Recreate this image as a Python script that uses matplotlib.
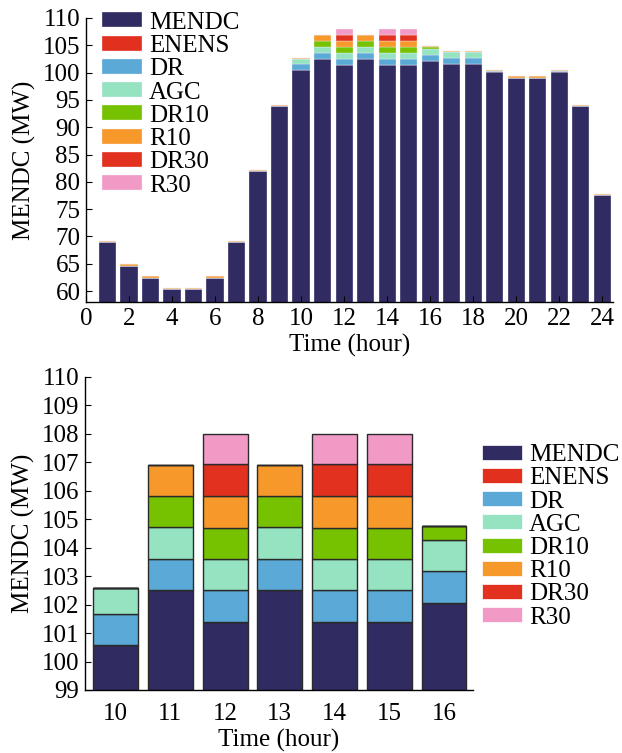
import matplotlib
matplotlib.use("Agg")
import matplotlib.pyplot as plt
import numpy as np

plt.rcParams["font.family"] = ["Liberation Serif", "DejaVu Serif"]

# ---- 24-hour schedule (MW) ----
hours_24 = list(range(1, 25))
mendc_24 = [68.95, 64.65, 62.45, 60.3, 60.3, 62.45, 68.95, 81.9, 93.8, 100.55,
            102.5, 101.4, 102.5, 101.4, 101.4, 102.05, 101.55, 101.55, 100.1, 99.1,
            99.1, 100.1, 93.8, 77.55]
enens_24 = [0.0] * 24
dr_24 = [0, 0, 0, 0, 0, 0, 0, 0, 0, 1.08,
         1.1, 1.1, 1.1, 1.1, 1.1, 1.1, 1.1, 1.1, 0.2, 0,
         0, 0.2, 0, 0]
agc_24 = [0, 0, 0, 0, 0, 0, 0, 0, 0, 0.94,
          1.1, 1.1, 1.1, 1.1, 1.1, 1.1, 1.1, 1.1, 0, 0,
          0, 0, 0, 0]
dr10_24 = [0, 0, 0, 0, 0, 0, 0, 0, 0, 0,
           1.1, 1.1, 1.1, 1.1, 1.1, 0.45, 0, 0, 0, 0,
           0, 0, 0, 0]
r10_24 = [0.28, 0.28, 0.28, 0.28, 0.28, 0.28, 0.28, 0.28, 0.28, 0.18,
          1.1, 1.1, 1.1, 1.1, 1.1, 0.18, 0.18, 0.18, 0.25, 0.25,
          0.25, 0.25, 0.28, 0.28]
dr30_24 = [0, 0, 0, 0, 0, 0, 0, 0, 0, 0,
           0, 1.13, 0, 1.13, 1.13, 0, 0, 0, 0, 0,
           0, 0, 0, 0]
r30_24 = [0, 0, 0, 0, 0, 0, 0, 0, 0, 0,
          0, 1.07, 0, 1.07, 1.07, 0, 0, 0, 0, 0,
          0, 0, 0, 0]

# ---- peak hours detail (MW) ----
hours_peak = [10, 11, 12, 13, 14, 15, 16]
mendc_peak = [100.58, 102.51, 101.38, 102.51, 101.38, 101.38, 102.07]
enens_peak = [0, 0, 0, 0, 0, 0, 0]
dr_peak = [1.08, 1.1, 1.13, 1.1, 1.13, 1.13, 1.11]
agc_peak = [0.94, 1.13, 1.09, 1.13, 1.09, 1.09, 1.09]
dr10_peak = [0, 1.09, 1.1, 1.09, 1.1, 1.1, 0.49]
r10_peak = [0, 1.07, 1.12, 1.07, 1.12, 1.12, 0]
dr30_peak = [0, 0, 1.11, 0, 1.11, 1.11, 0]
r30_peak = [0, 0, 1.06, 0, 1.06, 1.06, 0]

names = ["MENDC", "ENENS", "DR", "AGC", "DR10", "R10", "DR30", "R30"]
colors = ["#302c62", "#e2301f", "#5aa9d6", "#95e3c1", "#77c200", "#f7982a",
          "#e2321f", "#f19ac5"]

series_24 = [mendc_24, enens_24, dr_24, agc_24, dr10_24, r10_24, dr30_24, r30_24]
series_peak = [mendc_peak, enens_peak, dr_peak, agc_peak, dr10_peak, r10_peak,
               dr30_peak, r30_peak]

W, H = 622, 753
fig = plt.figure(figsize=(W / 100, H / 100), dpi=100)

FS = 18


def style_axes(ax):
    ax.spines["top"].set_visible(False)
    ax.spines["right"].set_visible(False)
    ax.tick_params(direction="in", length=4, width=0.8, labelsize=FS, pad=4)
    for s in ("left", "bottom"):
        ax.spines[s].set_linewidth(1.0)


legend_kw = dict(frameon=False, fontsize=FS, borderpad=0, borderaxespad=0,
                 handlelength=1.6, handleheight=0.55, handletextpad=0.28,
                 labelspacing=0.05)

# ---- top: full day ----
ax1 = fig.add_axes([86 / W, 1 - 302 / H, (613 - 86) / W, (302 - 18) / H])
bottom = np.zeros(len(hours_24))
handles = []
for vals, name, c in zip(series_24, names, colors):
    v = np.array(vals, dtype=float)
    b = ax1.bar(hours_24, v, width=0.8, bottom=bottom, color=c,
                edgecolor="#f4f2fa", linewidth=0.25, label=name)
    handles.append(b)
    bottom = bottom + v
ax1.set_xlim(0, 24.5)
ax1.set_ylim(58, 110)
ax1.set_xticks(range(0, 25, 2))
ax1.set_yticks(range(60, 111, 5))
style_axes(ax1)
ax1.set_xlabel("Time (hour)", fontsize=FS, labelpad=3)
ax1.set_ylabel("MENDC (MW)", fontsize=FS, labelpad=5)
ax1.legend(handles=handles, loc="upper left", bbox_to_anchor=(0.030, 1.022),
           **legend_kw)

# ---- bottom: peak hours ----
ax2 = fig.add_axes([85 / W, 1 - 690 / H, (473 - 85) / W, (690 - 377) / H])
bottom = np.zeros(len(hours_peak))
for vals, name, c in zip(series_peak, names, colors):
    v = np.array(vals, dtype=float)
    ax2.bar(hours_peak, v, width=0.82, bottom=bottom, color=c,
            edgecolor="#2a2a2a", linewidth=1.0, label=name)
    bottom = bottom + v
ax2.set_xlim(9.44, 16.53)
ax2.set_ylim(99, 110)
ax2.set_xticks(hours_peak)
ax2.set_yticks(range(99, 111))
style_axes(ax2)
ax2.tick_params(axis="x", length=0, pad=9)
ax2.set_xlabel("Time (hour)", fontsize=FS, labelpad=3)
ax2.set_ylabel("MENDC (MW)", fontsize=FS, labelpad=5)

leg_handles = [plt.Rectangle((0, 0), 1, 1, facecolor=c, edgecolor="white",
                             linewidth=0.5) for c in colors]
fig.legend(leg_handles, names, loc="upper left",
           bbox_to_anchor=(482 / W, 1 - 444 / H), **legend_kw)

fig.savefig("out.png", dpi=100)
